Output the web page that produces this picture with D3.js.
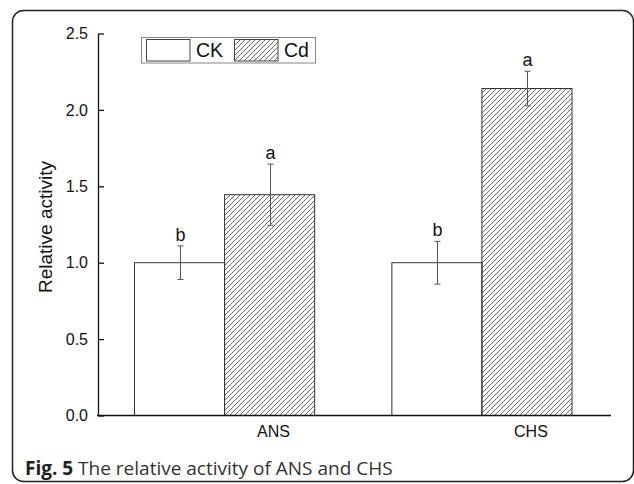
<!DOCTYPE html>
<html><head><meta charset="utf-8">
<script src="https://cdn.jsdelivr.net/npm/d3@7"></script>
<style>html,body{margin:0;padding:0;background:#fff;}svg{display:block;}</style>
</head><body>
<svg id="chart" width="634" height="484"></svg>
<script>
const categories = ["ANS", "CHS"];
const seriesNames = ["CK", "Cd"];
const ckValues = [1.0, 1.0];
const ckErrors = [0.11, 0.14];
const cdValues = [1.445, 2.14];
const cdErrors = [0.2, 0.113];
const ckLetters = ["b", "b"];
const cdLetters = ["a", "a"];
const yTicks = [0.0, 0.5, 1.0, 1.5, 2.0, 2.5];
const yTitle = "Relative activity";
const captionBold = "Fig. 5";
const captionText = " The relative activity of ANS and CHS";

const svg = d3.select("#chart");
const font = "'Liberation Sans', Arial, sans-serif";

// card
svg.append("rect").attr("x", 12.5).attr("y", 10.5).attr("width", 621).attr("height", 471)
  .attr("rx", 11).attr("fill", "none").attr("stroke", "#222").attr("stroke-width", 1.5);

// hatch pattern
const defs = svg.append("defs");
const pat = defs.append("pattern").attr("id", "hatch").attr("patternUnits", "userSpaceOnUse")
  .attr("width", 5).attr("height", 5);
pat.append("path").attr("d", "M0,5 L5,0 M-1,1 L1,-1 M4,6 L6,4")
  .attr("stroke", "#444").attr("stroke-width", 0.8).attr("fill", "none");

const y = d3.scaleLinear().domain([0, 2.5]).range([415.5, 33.5]);
const x0 = d3.scaleBand().domain(categories).range([134.5, 572]).paddingInner(0.3);
const x1 = d3.scaleBand().domain(seriesNames).range([0, x0.bandwidth()]);

const rows = [];
categories.forEach((c, i) => {
  rows.push({cat: c, s: "CK", v: ckValues[i], e: ckErrors[i], l: ckLetters[i]});
  rows.push({cat: c, s: "Cd", v: cdValues[i], e: cdErrors[i], l: cdLetters[i]});
});

const g = svg.append("g");
g.selectAll("rect.bar").data(rows).join("rect").attr("class", "bar")
  .attr("x", d => x0(d.cat) + x1(d.s))
  .attr("y", d => y(d.v))
  .attr("width", x1.bandwidth())
  .attr("height", d => y(0) - y(d.v))
  .attr("fill", d => d.s === "CK" ? "#fff" : "url(#hatch)")
  .attr("stroke", "#333").attr("stroke-width", 1);

// error bars
const eb = g.selectAll("g.err").data(rows).join("g").attr("class", "err")
  .attr("transform", d => `translate(${Math.round(x0(d.cat) + x1(d.s) + x1.bandwidth() / 2) + 0.5},0)`);
eb.append("line").attr("y1", d => y(d.v + d.e)).attr("y2", d => y(d.v - d.e))
  .attr("stroke", "#555").attr("stroke-width", 1);
eb.append("line").attr("x1", -3).attr("x2", 3).attr("y1", d => y(d.v + d.e)).attr("y2", d => y(d.v + d.e))
  .attr("stroke", "#555").attr("stroke-width", 1);
eb.append("line").attr("x1", -3).attr("x2", 3).attr("y1", d => y(d.v - d.e)).attr("y2", d => y(d.v - d.e))
  .attr("stroke", "#555").attr("stroke-width", 1);
eb.append("text").attr("y", d => y(d.v + d.e) - 5).attr("text-anchor", "middle")
  .attr("font-family", font).attr("font-size", 18).attr("fill", "#111").text(d => d.l);

// y axis
const yAxis = d3.axisLeft(y).tickValues(yTicks).tickFormat(d3.format(".1f"))
  .tickSizeInner(-6).tickSizeOuter(0).tickPadding(10);
const ya = svg.append("g").attr("transform", "translate(98,0)").call(yAxis);
ya.select(".domain").attr("stroke", "#111").attr("stroke-width", 1.3);
ya.selectAll(".tick line").attr("stroke", "#111").attr("stroke-width", 1.3);
ya.selectAll(".tick text").attr("font-family", font).attr("font-size", 16).attr("fill", "#111");

// x axis line
svg.append("line").attr("x1", 97).attr("x2", 611).attr("y1", 415.5).attr("y2", 415.5)
  .attr("stroke", "#111").attr("stroke-width", 1.5);
svg.selectAll("text.xlab").data(categories).join("text").attr("class", "xlab")
  .attr("x", d => x0(d) + x0.bandwidth() / 2 + 49).attr("y", 437)
  .attr("text-anchor", "middle").attr("font-family", font).attr("font-size", 16).attr("fill", "#111")
  .text(d => d);

// y title
svg.append("text").attr("transform", "translate(52,227) rotate(-90)").attr("text-anchor", "middle")
  .attr("font-family", font).attr("font-size", 19).attr("fill", "#111").text(yTitle);

// legend
const lg = svg.append("g");
lg.append("rect").attr("x", 141.5).attr("y", 37.5).attr("width", 174).attr("height", 25.5)
  .attr("fill", "#fff").attr("stroke", "#888").attr("stroke-width", 1);
const lx = [146.5, 234.5];
seriesNames.forEach((s, i) => {
  lg.append("rect").attr("x", lx[i]).attr("y", 39.5).attr("width", 43.5).attr("height", 21.5)
    .attr("fill", s === "CK" ? "#fff" : "url(#hatch)").attr("stroke", "#444").attr("stroke-width", 1);
  lg.append("text").attr("x", lx[i] + 49.5).attr("y", 57).attr("font-family", font)
    .attr("font-size", 19.5).attr("fill", "#111").text(s);
});

// caption
const cap = svg.append("text").attr("x", 25).attr("y", 475)
  .attr("font-family", "'Open Sans', sans-serif").attr("font-size", 19).attr("fill", "#333");
cap.append("tspan").attr("font-weight", "bold").attr("fill", "#222").text(captionBold);
cap.append("tspan").text(captionText);
</script>
</body></html>
